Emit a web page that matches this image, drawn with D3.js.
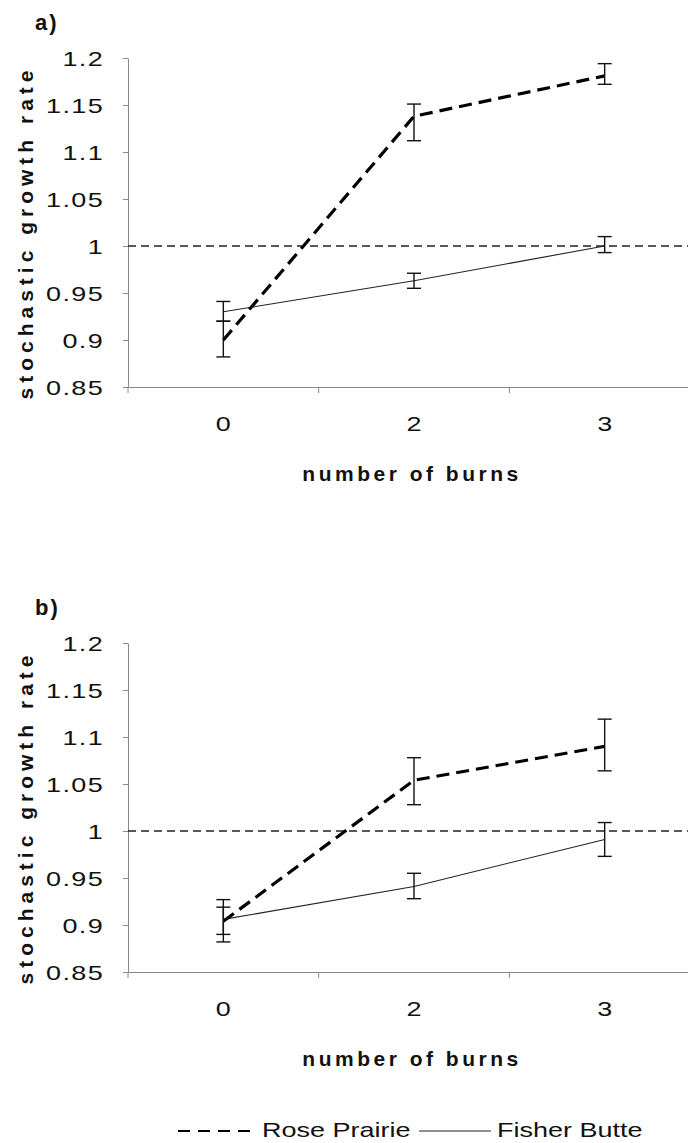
<!DOCTYPE html>
<html>
<head>
<meta charset="utf-8">
<script src="https://cdn.jsdelivr.net/npm/d3@7"></script>
<style>
  body { margin: 0; background: #fff; }
  text { font-family: "Liberation Sans", Arial, sans-serif; fill: #111; }
</style>
</head>
<body>
<div id="chart"></div>
<script>
// categories and tick values
const burns = ["0", "2", "3"];
const yTicks = [0.85, 0.9, 0.95, 1, 1.05, 1.1, 1.15, 1.2];

// panel a) values
const roseA = [0.900, 1.138, 1.181];
const roseALo = [0.882, 1.112, 1.172];
const roseAHi = [0.920, 1.151, 1.194];
const fisherA = [0.930, 0.963, 1.000];
const fisherALo = [0.920, 0.955, 0.993];
const fisherAHi = [0.941, 0.971, 1.010];

// panel b)
const roseB = [0.904, 1.054, 1.090];
const roseBLo = [0.882, 1.028, 1.064];
const roseBHi = [0.927, 1.078, 1.119];
const fisherB = [0.906, 0.941, 0.991];
const fisherBLo = [0.890, 0.928, 0.973];
const fisherBHi = [0.919, 0.955, 1.009];

const W = 688, H = 1143;
const SX = 1.35; // the scan is stretched sideways, so is the text

const svg = d3.select("#chart").append("svg")
  .attr("width", W)
  .attr("height", H);

// stretched text helper
function sText(parent, x, y, str, size, weight) {
  const g = parent.append("g")
    .attr("transform", `translate(${x},${y}) scale(${SX},1)`);
  g.append("text")
    .attr("font-size", size)
    .attr("font-weight", weight || "normal")
    .text(str);
  return g;
}

function drawPanel(top, tag, rose, roseLo, roseHi, fisher, fisherLo, fisherHi) {
  const plotH = 329;
  const y = d3.scaleLinear().domain([0.85, 1.2]).range([top + plotH, top]);
  const x = d3.scaleBand().domain(burns).range([128, 700]);
  const cx = d => x(d) + x.bandwidth() / 2;
  const g = svg.append("g");

  // y axis
  const yAxis = g.append("g")
    .attr("transform", `translate(${x.range()[0]},0)`)
    .attr("font-size", null).attr("font-family", null)
    .call(d3.axisLeft(y).tickValues(yTicks).tickSize(5).tickSizeOuter(0)
      .tickFormat(d => String(+d.toFixed(2))));
  yAxis.select(".domain").attr("stroke", "#8a8a8a");
  yAxis.selectAll(".tick line").attr("stroke", "#8a8a8a");
  yAxis.selectAll(".tick text")
    .attr("font-size", 20)
    .attr("letter-spacing", 1)
    .attr("x", -24 / SX)
    .attr("dy", "0.36em")
    .attr("transform", `scale(${SX},1)`);

  // x axis (category labels in the middle of each band)
  const xAxis = g.append("g")
    .attr("transform", `translate(0,${top + plotH})`)
    .attr("font-size", null).attr("font-family", null)
    .call(d3.axisBottom(x).tickSize(0).tickSizeOuter(0));
  xAxis.select(".domain").attr("stroke", "#8a8a8a");
  xAxis.selectAll(".tick text")
    .attr("font-size", 20)
    .attr("y", 44)
    .attr("dy", 0)
    .attr("transform", `scale(${SX},1)`);

  // tick marks sit on the band boundaries
  g.selectAll(".btick")
    .data(burns)
    .join("line")
    .attr("class", "btick")
    .attr("x1", d => x(d)).attr("x2", d => x(d))
    .attr("y1", top + plotH).attr("y2", top + plotH + 6)
    .attr("stroke", "#8a8a8a");

  // reference line at 1
  g.append("line")
    .attr("x1", x.range()[0]).attr("x2", x.range()[1])
    .attr("y1", y(1)).attr("y2", y(1))
    .attr("stroke", "#222")
    .attr("stroke-width", 1.3)
    .attr("stroke-dasharray", "8,5");

  const line = d3.line()
    .x((d, i) => cx(burns[i]))
    .y(d => y(d));

  // Fisher Butte
  g.append("path")
    .datum(fisher)
    .attr("d", line)
    .attr("fill", "none")
    .attr("stroke", "#222")
    .attr("stroke-width", 1.1);

  // Rose Prairie
  g.append("path")
    .datum(rose)
    .attr("d", line)
    .attr("fill", "none")
    .attr("stroke", "#000")
    .attr("stroke-width", 3.2)
    .attr("stroke-dasharray", "13,7");

  // error bars
  const bars = [];
  burns.forEach((b, i) => {
    bars.push({ b: b, lo: roseLo[i], hi: roseHi[i] });
    bars.push({ b: b, lo: fisherLo[i], hi: fisherHi[i] });
  });
  const eb = g.selectAll(".eb")
    .data(bars)
    .join("g")
    .attr("class", "eb")
    .attr("stroke", "#111")
    .attr("stroke-width", 1.4);
  eb.append("line")
    .attr("x1", d => cx(d.b)).attr("x2", d => cx(d.b))
    .attr("y1", d => y(d.lo)).attr("y2", d => y(d.hi));
  eb.append("line")
    .attr("x1", d => cx(d.b) - 7).attr("x2", d => cx(d.b) + 7)
    .attr("y1", d => y(d.lo)).attr("y2", d => y(d.lo));
  eb.append("line")
    .attr("x1", d => cx(d.b) - 7).attr("x2", d => cx(d.b) + 7)
    .attr("y1", d => y(d.hi)).attr("y2", d => y(d.hi));

  // panel tag
  g.append("text")
    .attr("x", 35).attr("y", top - 28)
    .attr("font-size", 22)
    .attr("font-weight", "bold")
    .attr("letter-spacing", 2)
    .text(tag);

  // axis titles
  g.append("text")
    .attr("transform", `translate(33,${(y.range()[0] + y.range()[1]) / 2 + 10}) rotate(-90)`)
    .attr("text-anchor", "middle")
    .attr("font-size", 21)
    .attr("font-weight", "bold")
    .attr("letter-spacing", 5)
    .text("stochastic growth rate");

  g.append("text")
    .attr("x", (x.range()[0] + x.range()[1]) / 2 - 2)
    .attr("y", top + plotH + 94)
    .attr("text-anchor", "middle")
    .attr("font-size", 21)
    .attr("font-weight", "bold")
    .attr("letter-spacing", 3.5)
    .text("number of burns");
}

drawPanel(58, "a)", roseA, roseALo, roseAHi, fisherA, fisherALo, fisherAHi);
drawPanel(643, "b)", roseB, roseBLo, roseBHi, fisherB, fisherBLo, fisherBHi);

// legend
const legend = svg.append("g");
legend.append("line")
  .attr("x1", 178).attr("x2", 258).attr("y1", 1131).attr("y2", 1131)
  .attr("stroke", "#000").attr("stroke-width", 2)
  .attr("stroke-dasharray", "12,8");
sText(legend, 262, 1137, "Rose Prairie", 20);
legend.append("line")
  .attr("x1", 419).attr("x2", 491).attr("y1", 1131).attr("y2", 1131)
  .attr("stroke", "#222").attr("stroke-width", 1.1);
sText(legend, 497, 1137, "Fisher Butte", 20);
</script>
</body>
</html>
